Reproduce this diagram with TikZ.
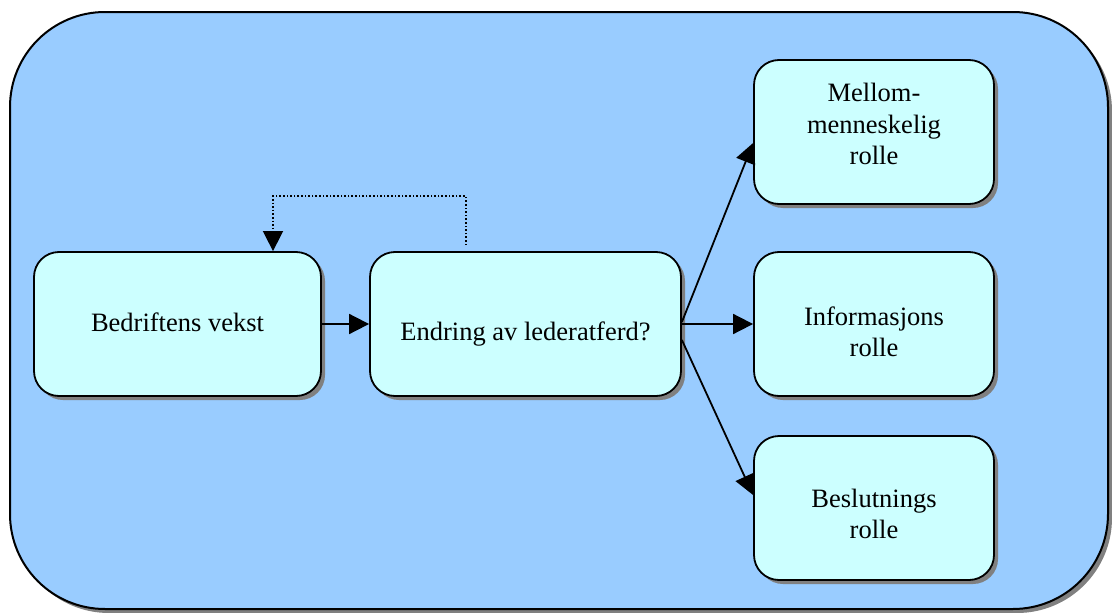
\documentclass[tikz,border=0pt]{standalone}
\usepackage{fontspec}
\setmainfont{Liberation Serif}
\usetikzlibrary{arrows.meta,shadows}
\definecolor{panelblue}{HTML}{99CCFF}
\definecolor{boxcyan}{HTML}{CCFFFF}
\definecolor{shadowgray}{HTML}{808080}
\begin{document}
\begin{tikzpicture}[x=1pt,y=-1pt,
  rolebox/.style={draw=black, line width=1.8pt, fill=boxcyan, rounded corners=25pt,
    minimum height=144pt, inner sep=0pt,
    drop shadow={shadow xshift=4pt, shadow yshift=-4pt, fill=shadowgray, opacity=1}},
  boxtext/.style={align=center, inner sep=0pt, font=\fontsize{26.5}{31.5}\selectfont},
  link/.style={line width=1.8pt, -{Triangle[length=20pt,width=20pt]}},
  loopback/.style={line width=1.6pt, dash pattern=on 1.6pt off 2pt,
    -{Triangle[length=20pt,width=20pt]}}]
\useasboundingbox (0,0) rectangle (1112,613);
% outer panel with its shadow
\fill[shadowgray, rounded corners=95pt] (14,16) rectangle (1112,613);
\draw[line width=2pt, fill=panelblue, rounded corners=95pt] (10,12) rectangle (1108,609);

% boxes
\node[rolebox, minimum width=287pt] (bedrift) at (177.5,324) {};
\node[rolebox, minimum width=311pt] (endring) at (525.5,324) {};
\node[rolebox, minimum width=240pt] (mellom) at (874,132) {};
\node[rolebox, minimum width=240pt] (info) at (874,324) {};
\node[rolebox, minimum width=240pt] (beslut) at (874,508) {};

% labels
\node[boxtext] (bedrift-t) at ([yshift=2pt]bedrift.center) {Bedriftens vekst};
\node[boxtext] (endring-t) at ([yshift=-10pt]endring.center) {Endring av lederatferd?};
\node[boxtext] (mellom-t) at ([yshift=8pt]mellom.center) {Mellom-\\menneskelig\\rolle};
\node[boxtext] (info-t) at ([yshift=-8pt]info.center) {Informasjons\\rolle};
\node[boxtext] (beslut-t) at ([yshift=-6pt]beslut.center) {Beslutnings\\rolle};

% connectors
\draw[link] (bedrift.east) -- (endring.west);
\draw[link] ([yshift=2pt]endring.east) -- ([yshift=-11pt]mellom.west);
\draw[link] (endring.east) -- (info.west);
\draw[link] ([yshift=-16pt]endring.east) -- ([yshift=13pt]beslut.west);
\draw[loopback] ([xshift=-59.5pt,yshift=6pt]endring.north) -- ++(0,-49) -| ([xshift=95.5pt]bedrift.north);
\end{tikzpicture}
\end{document}
